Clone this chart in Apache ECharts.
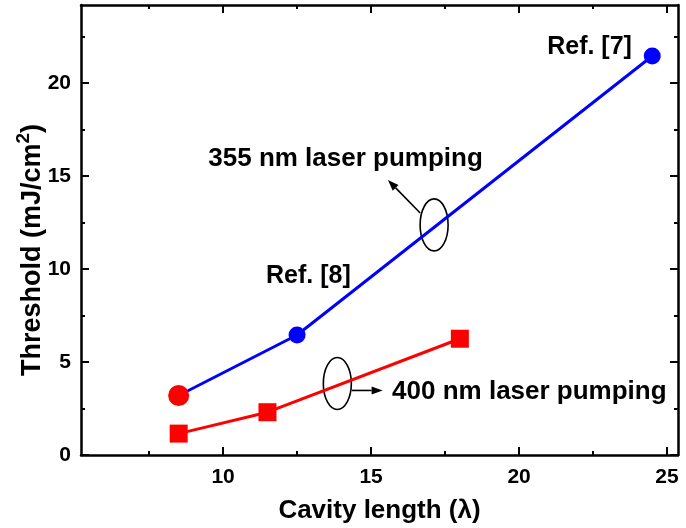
<!DOCTYPE html>
<html>
<head>
<meta charset="utf-8">
<script src="https://cdn.jsdelivr.net/npm/echarts@6/dist/echarts.min.js"></script>
<style>html,body{margin:0;padding:0;background:#fff}#c{width:686px;height:528px}</style>
</head>
<body>
<div id="c"></div>
<script>
// ---- data ----
var xMajorTicks = [10, 15, 20, 25];
var xMinorTicks = [7.5, 12.5, 17.5, 22.5];
var yMajorTicks = [0, 5, 10, 15, 20];
var yMinorTicks = [2.5, 7.5, 12.5, 17.5, 22.5];
var pump355X = [8.5, 12.5, 24.5];
var pump355Y = [3.2, 6.45, 21.45];
var pump400X = [8.5, 11.5, 18.0];
var pump400Y = [1.15, 2.3, 6.25];
var xTitle = 'Cavity length (λ)';
var yTitle = '{a|Threshold (mJ/cm}{sup|2}{a|)}';
var textNotes = [
  {text: 'Ref. [7]', x: 20.95, y: 21.94, size: 25},
  {text: 'Ref. [8]', x: 11.45, y: 9.62, size: 25},
  {text: '355 nm laser pumping', x: 9.5, y: 15.94, size: 26},
  {text: '400 nm laser pumping', x: 15.71, y: 3.39, size: 26}
];
var ellipseNotes = [{x: 17.13, y: 12.37}, {x: 13.86, y: 3.84}];
var arrowNotes = [
  {from: [16.66, 13.01], to: [15.57, 14.78]},
  {from: [14.35, 3.47], to: [15.39, 3.47]}
];

var FONT = '"Liberation Sans", Arial, sans-serif';
var chart = echarts.init(document.getElementById('c'));
var XMIN = 5.2, XMAX = 25.37, YMIN = 0, YMAX = 24.19;

function xAx(pos, ticks, len, labels, line) {
  return {
    type: 'value', position: pos, min: XMIN, max: XMAX,
    axisLine: {show: line, onZero: false, lineStyle: {color: '#000', width: 2.5}},
    axisTick: {show: true, inside: true, length: len, customValues: ticks, lineStyle: {color: '#000', width: 2}},
    axisLabel: {show: labels, customValues: ticks, color: '#000', fontSize: 21, fontWeight: 'bold', fontFamily: FONT, margin: 12},
    splitLine: {show: false}
  };
}
function yAx(pos, ticks, len, labels, line) {
  return {
    type: 'value', position: pos, min: YMIN, max: YMAX,
    axisLine: {show: line, onZero: false, lineStyle: {color: '#000', width: 2.5}},
    axisTick: {show: true, inside: true, length: len, customValues: ticks, lineStyle: {color: '#000', width: 2}},
    axisLabel: {show: labels, customValues: ticks, color: '#000', fontSize: 21, fontWeight: 'bold', fontFamily: FONT, margin: 10},
    splitLine: {show: false}
  };
}

var xs = [xAx('bottom', xMajorTicks, 8, true, true), xAx('bottom', xMinorTicks, 4, false, false),
          xAx('top', xMajorTicks, 8, false, true), xAx('top', xMinorTicks, 4, false, false)];
xs[0].name = xTitle; xs[0].nameLocation = 'middle'; xs[0].nameGap = 43;
xs[0].nameTextStyle = {color: '#000', fontSize: 26, fontWeight: 'bold', fontFamily: FONT};
var ys = [yAx('left', yMajorTicks, 8, true, true), yAx('left', yMinorTicks, 4, false, false),
          yAx('right', yMajorTicks, 8, false, true), yAx('right', yMinorTicks, 4, false, false)];
ys[0].name = yTitle; ys[0].nameLocation = 'middle'; ys[0].nameGap = 35; ys[0].nameRotate = 90;
ys[0].nameMoveOverlap = false;
ys[0].nameTextStyle = {color: '#000', fontSize: 27, fontWeight: 'bold', fontFamily: FONT,
  padding: [0, 40, 0, 0],
  rich: {
    a: {fontSize: 27, fontWeight: 'bold', fontFamily: FONT, color: '#000', lineHeight: 32, verticalAlign: 'bottom'},
    sup: {fontSize: 19, fontWeight: 'bold', fontFamily: FONT, color: '#000', verticalAlign: 'top', lineHeight: 19, padding: [0, 0, 21, 0]}
  }};

var d355 = pump355X.map(function (x, i) { return [x, pump355Y[i]]; });
var d400 = pump400X.map(function (x, i) { return [x, pump400Y[i]]; });
d355[0] = {value: d355[0], symbolSize: 21, itemStyle: {color: '#ff0000'}};

chart.setOption({
  animation: false,
  grid: {left: 81, right: 8, top: 5, bottom: 73, outerBoundsMode: 'none', containLabel: false},
  xAxis: xs,
  yAxis: ys,
  series: [
    {type: 'line', data: d355, symbol: 'circle', symbolSize: 17, z: 3,
     lineStyle: {color: '#0000ff', width: 3}, itemStyle: {color: '#0000ff'}},
    {type: 'line', data: d400, symbol: 'rect', symbolSize: 18,
     lineStyle: {color: '#ff0000', width: 3}, itemStyle: {color: '#ff0000'}}
  ]
});

function px(p) { return chart.convertToPixel({xAxisIndex: 0, yAxisIndex: 0}, p); }
var g = [];
textNotes.forEach(function (t) {
  var p = px([t.x, t.y]);
  g.push({type: 'text', x: p[0], y: p[1], style: {text: t.text, fill: '#000', font: 'bold ' + t.size + 'px ' + FONT, textAlign: 'left', textVerticalAlign: 'middle'}});
});
ellipseNotes.forEach(function (e) {
  var p = px([e.x, e.y]);
  g.push({type: 'ellipse', shape: {cx: p[0], cy: p[1], rx: 14, ry: 26}, style: {fill: 'none', stroke: '#000', lineWidth: 1.6}});
});
arrowNotes.forEach(function (a) {
  var p0 = px(a.from), p1 = px(a.to);
  var dx = p1[0] - p0[0], dy = p1[1] - p0[1], L = Math.sqrt(dx * dx + dy * dy);
  var ux = dx / L, uy = dy / L, hl = 11, hw = 4;
  var bx = p1[0] - ux * hl, by = p1[1] - uy * hl;
  g.push({type: 'line', shape: {x1: p0[0], y1: p0[1], x2: bx, y2: by}, style: {stroke: '#000', lineWidth: 1.6}});
  g.push({type: 'polygon', shape: {points: [[p1[0], p1[1]], [bx - uy * hw, by + ux * hw], [bx + uy * hw, by - ux * hw]]}, style: {fill: '#000'}});
});
chart.setOption({graphic: g});
</script>
</body>
</html>
